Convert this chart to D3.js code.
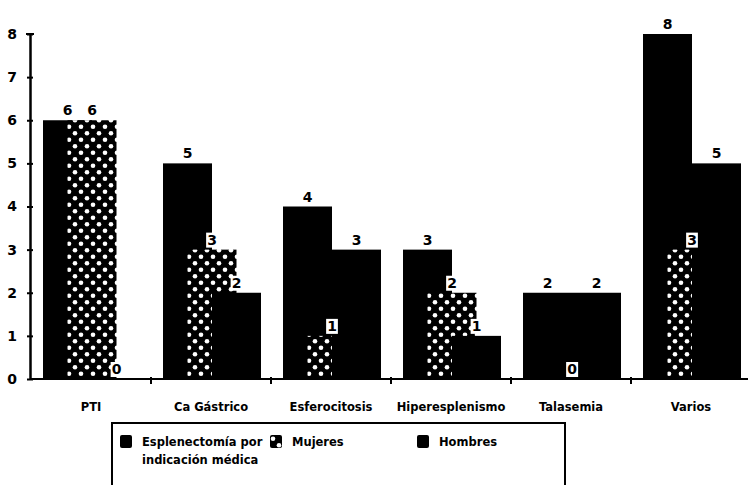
<!DOCTYPE html>
<html>
<head>
<meta charset="utf-8">
<script src="https://cdn.jsdelivr.net/npm/d3@7"></script>
<style>
  html, body { margin: 0; padding: 0; background: #fff; }
  svg { display: block; }
  text { font-family: "DejaVu Sans", "Liberation Sans", sans-serif; font-weight: bold; fill: #000; }
</style>
</head>
<body>
<svg id="chart" width="748" height="485"></svg>
<script>
// ---- data ----
const categories = ["PTI", "Ca Gástrico", "Esferocitosis", "Hiperesplenismo", "Talasemia", "Varios"];
const seriesNames = ["Esplenectomía por indicación médica", "Mujeres", "Hombres"];
const esplenectomia = [6, 5, 4, 3, 2, 8];
const mujeres = [6, 3, 1, 2, 0, 3];
const hombres = [0, 2, 3, 1, 2, 5];
const yTickValues = [0, 1, 2, 3, 4, 5, 6, 7, 8];
const legendLines = [["Esplenectomía por", "indicación médica"], ["Mujeres"], ["Hombres"]];

const seriesValues = [esplenectomia, mujeres, hombres];

const svg = d3.select("#chart");
const defs = svg.append("defs");
const pat = defs.append("pattern")
  .attr("id", "checker").attr("patternUnits", "userSpaceOnUse")
  .attr("width", 12).attr("height", 13);
pat.append("rect").attr("width", 12).attr("height", 13).attr("fill", "#000");
pat.append("circle").attr("cx", 3).attr("cy", 3.25).attr("r", 2.3).attr("fill", "#fff");
pat.append("circle").attr("cx", 9).attr("cy", 9.75).attr("r", 2.3).attr("fill", "#fff");

const fills = ["#000", "url(#checker)", "#000"];

// ---- scales ----
const y = d3.scaleLinear().domain([0, 8]).range([379, 34]);
const x0 = d3.scaleBand().domain(categories).range([31, 751]).padding(0);
const barW = 49;
const x1 = d3.scalePoint().domain(seriesNames).range([36.5, 85.5]);

// ---- bars ----
const gBars = svg.append("g");
seriesNames.forEach((s, si) => {
  gBars.selectAll(null).data(categories).enter().append("rect")
    .attr("x", c => x0(c) + x1(s) - barW / 2)
    .attr("y", (c, i) => y(seriesValues[si][i]))
    .attr("width", barW)
    .attr("height", (c, i) => y(0) - y(seriesValues[si][i]))
    .attr("fill", fills[si]);
});

// ---- value labels with white backgrounds ----
const gLab = svg.append("g");
seriesNames.forEach((s, si) => {
  categories.forEach((c, i) => {
    const v = seriesValues[si][i];
    const cx = x0(c) + x1(s);
    const by = y(v) - 5;
    const t = gLab.append("text")
      .attr("x", cx).attr("y", by)
      .attr("text-anchor", "middle")
      .attr("font-size", 14)
      .text(v);
    const bb = t.node().getBBox();
    gLab.insert("rect", () => t.node())
      .attr("x", bb.x - 1).attr("y", bb.y + 1)
      .attr("width", bb.width + 2).attr("height", bb.height - 1)
      .attr("fill", "#fff");
  });
});

// ---- y axis ----
const yAxis = d3.axisLeft(y).tickValues(yTickValues).tickFormat(d3.format("d"))
  .tickSizeInner(3).tickSizeOuter(0).tickPadding(10);
const gy = svg.append("g").attr("transform", "translate(30,0)").call(yAxis);
gy.select(".domain").attr("stroke", "#000").attr("stroke-width", 2.5);
gy.selectAll(".tick line").attr("x2", -3).attr("x1", 3).attr("stroke-width", 2);
gy.selectAll(".tick text").attr("font-size", 14).attr("font-family", "DejaVu Sans, sans-serif").attr("font-weight", "bold");
gy.append("line").attr("x1", -4).attr("x2", 4).attr("y1", y(8)).attr("y2", y(8)).attr("stroke", "#000").attr("stroke-width", 2);

// ---- x axis ----
const xAxis = d3.axisBottom(x0).tickSize(0).tickPadding(24);
const gx = svg.append("g").attr("transform", `translate(0,${y(0)})`).call(xAxis);
gx.select(".domain").attr("stroke", "#000").attr("stroke-width", 2).attr("d", "M30,0H748");
gx.selectAll(".tick text").attr("font-size", 11.5).attr("font-family", "DejaVu Sans Condensed, DejaVu Sans, sans-serif").attr("font-weight", "bold");
// boundary ticks
gx.selectAll(".bt").data(categories.slice(1)).enter().append("line")
  .attr("x1", c => x0(c)).attr("x2", c => x0(c))
  .attr("y1", -2).attr("y2", 5).attr("stroke", "#000").attr("stroke-width", 2);

// ---- legend ----
const lg = svg.append("g");
lg.append("rect").attr("x", 112).attr("y", 423).attr("width", 453).attr("height", 80)
  .attr("fill", "none").attr("stroke", "#000").attr("stroke-width", 2);
const legX = [120, 270, 417];
seriesNames.forEach((s, si) => {
  lg.append("rect").attr("x", legX[si]).attr("y", 435).attr("width", 12).attr("height", 13)
    .attr("rx", 2).attr("fill", fills[si]);
  legendLines[si].forEach((ln, li) => {
    lg.append("text").attr("x", legX[si] + 22).attr("y", 446 + li * 18)
      .attr("font-size", 11.5).attr("font-family", "DejaVu Sans Condensed, DejaVu Sans, sans-serif")
      .text(ln);
  });
});
</script>
</body>
</html>
